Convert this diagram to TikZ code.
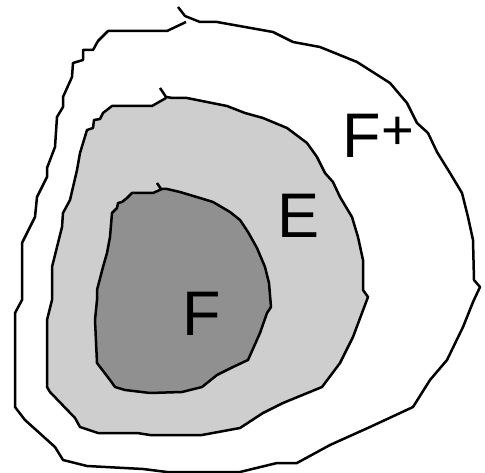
\documentclass[tikz,border=0pt]{standalone}
\usepackage{fontspec}
\setmainfont{Liberation Sans}
\definecolor{lightE}{RGB}{206,206,206}
\definecolor{darkF}{RGB}{144,144,144}
\begin{document}
\begin{tikzpicture}[x=1pt,y=-1pt,line width=2.5pt,line join=round,
  blob/.style={draw=black},
  lbl/.style={inner sep=0pt,anchor=base west,font=\fontsize{63}{63}\selectfont}]
\useasboundingbox (0,0) rectangle (485,473);
\draw[blob,fill=white](178,7)--(185,16)--(200,22)--(217,22)--(273,32)--(293,42)--(320,47)--(357,62)--(390,83)--(407,103)--(417,123)--(428,133)--(437,152)--(450,173)--(462,193)--(468,217)--(473,240)--(474,280)--(480,287)--(473,302)--(463,327)--(447,360)--(430,380)--(413,407)--(370,427)--(330,445)--(297,463)--(277,463)--(240,472)--(167,472)--(143,469)--(87,466)--(63,460)--(55,447)--(25,420)--(15,407)--(15,313)--(22,300)--(22,243)--(35,217)--(37,197)--(47,177)--(47,168)--(55,147)--(57,117)--(63,107)--(63,97)--(72,77)--(73,63)--(83,60)--(83,50)--(93,50)--(98,41)--(108,31)--(167,31)--(186,22);
\draw[blob,fill=lightE](160,88)--(166,97)--(173,98)--(187,98)--(227,106)--(245,113)--(263,118)--(287,128)--(307,143)--(317,157)--(325,173)--(333,182)--(340,197)--(352,217)--(358,237)--(363,260)--(363,290)--(368,297)--(362,313)--(353,337)--(340,363)--(322,387)--(283,403)--(263,413)--(240,428)--(202,435)--(150,435)--(137,433)--(98,433)--(80,427)--(75,418)--(50,392)--(47,387)--(47,320)--(52,300)--(52,267)--(62,227)--(63,213)--(70,200)--(77,170)--(80,153)--(87,130)--(93,128)--(94,120)--(100,119)--(103,113)--(112,106)--(152,106)--(166,98);
\draw[blob,fill=darkF](157,183)--(161,189)--(167,189)--(180,192)--(200,198)--(213,202)--(230,212)--(240,220)--(248,232)--(257,248)--(265,267)--(269,283)--(271,307)--(267,313)--(260,333)--(248,360)--(233,367)--(217,375)--(202,387)--(182,392)--(150,393)--(125,390)--(115,387)--(110,380)--(97,363)--(95,320)--(97,300)--(97,290)--(103,267)--(107,253)--(110,237)--(112,213)--(117,208)--(118,203)--(122,202)--(127,198)--(132,193)--(153,193)--(162,189);
\node[lbl] (fplus) at (341,158) {F\hspace{1pt}\raisebox{8pt}{\fontsize{56}{56}\selectfont+}};
\node[lbl] (e) at (276,238) {E};
\node[lbl] (f) at (181,335) {F};
\end{tikzpicture}
\end{document}
